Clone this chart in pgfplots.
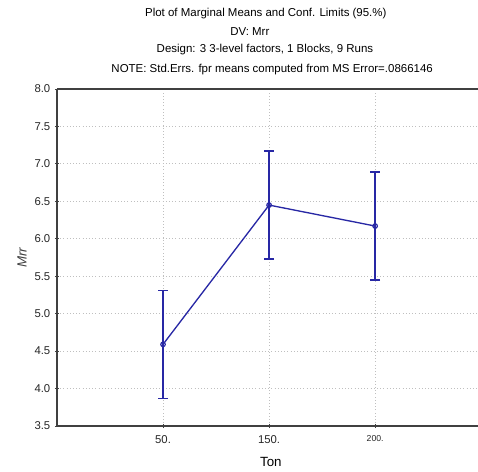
\documentclass[border=0pt]{standalone}
\usepackage{fontspec}
\setmainfont{Liberation Sans}
\usepackage{pgfplots}
\pgfplotsset{compat=1.18}
\definecolor{lineblue}{RGB}{40,40,165}
\definecolor{axisgray}{RGB}{64,64,64}
\begin{document}
\begin{tikzpicture}
\useasboundingbox (0,0) rectangle (358.5pt,353.25pt);
\begin{axis}[
  at={(42.75pt,33.75pt)}, anchor=south west,
  scale only axis, width=315.75pt, height=252.75pt,
  xmin=0, xmax=3.97, ymin=3.5, ymax=8,
  clip=false,
  axis x line*=box, axis y line*=left,
  axis line style={axisgray, line width=1.1pt},
  xtick={1,2,3}, xticklabels={50.,150.,{\fontsize{6.5}{7}\selectfont 200.}},
  ytick={3.5,4,...,8},
  yticklabel style={/pgf/number format/.cd, fixed, fixed zerofill, precision=1, assume math mode=true},
  xtick pos=bottom, ytick pos=left,
  tick align=center, major tick length=3pt,
  tick style={axisgray, line width=0.6pt},
  grid=major,
  major grid style={black!25, dotted, line width=0.8pt},
  ticklabel style={font=\fontsize{8.5}{10}\selectfont, text=black!85},
  xticklabel style={yshift=-2pt},
  xlabel={Ton}, ylabel={\textit{Mrr}},
  label style={font=\fontsize{8}{9.6}\selectfont},
  every axis x label/.style={at={(axis description cs:0.508,-0.107)}, anchor=center},
  every axis y label/.style={at={(axis description cs:-0.083,0.5)}, rotate=90, anchor=center, text=black!75},
]
\addplot[color=lineblue, line width=1pt, mark=o, mark size=1.7pt,
  mark options={solid, line width=0.9pt, fill=white},
  error bars/.cd, y dir=both, y explicit,
  error bar style={line width=1.1pt, color=lineblue},
  error mark options={rotate=90, mark size=3.75pt, line width=1.1pt, color=lineblue}]
  coordinates {
  (1,4.59) +- (0,0.72)
  (2,6.45) +- (0,0.72)
  (3,6.17) +- (0,0.72)
  };
\begin{scope}[font=\fontsize{8.6}{10}\selectfont]
\node at (axis description cs:0.496,1.2226) {Plot of Marginal Means and Conf. Limits (95.\%)};
\node at (axis description cs:0.458,1.169) {DV: Mrr};
\node at (axis description cs:0.494,1.116) {Design: 3 3-level factors, 1 Blocks, 9 Runs};
\node at (axis description cs:0.511,1.059) {NOTE: Std.Errs. fpr means computed from MS Error=.0866146};
\end{scope}
\end{axis}
\end{tikzpicture}
\end{document}
